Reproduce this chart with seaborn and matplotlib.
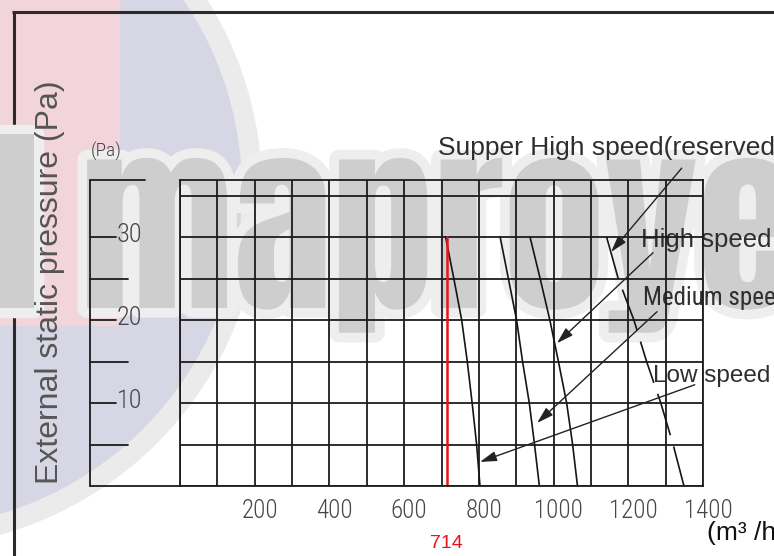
import numpy as np
import pandas as pd
import matplotlib
matplotlib.use("Agg")
import matplotlib.pyplot as plt
import seaborn as sns
from matplotlib import patheffects, transforms
from matplotlib.patches import Circle, Rectangle
from matplotlib.ticker import MultipleLocator

# static pressure levels (Pa) where the curves were read
pressure = [30, 25, 20, 15, 10, 5, 0]

# air flow (m3/h) of each fan speed at those pressures
flow_low = [711, 733, 754, 769, 782, 794, 803]
flow_medium = [857, 879, 901, 917, 935, 949, 962]
flow_high = [937, 964, 990, 1013, 1035, 1051, 1064]
flow_super = [1142, 1173, 1215, 1249, 1287, 1320, 1349]

# marked duty point
rated_flow = 714
rated_pressure = [0, 30]

x_ticks = [200, 400, 600, 800, 1000, 1200, 1400]
y_labeled = [10, 20, 30]
y_unlabeled = [5, 15, 25]

# callouts: label, where the leader starts, where the arrow points (m3/h, Pa)
callouts = ["Supper High speed(reserved)", "High speed", "Medium speed", "Low speed"]
leader_from_x = [1343, 1266, 1277, 1378]
leader_from_y = [38.3, 28.1, 21.0, 12.2]
leader_to_x = [1154, 1009, 956, 803]
leader_to_y = [28.2, 17.2, 7.6, 2.9]

sns.set_theme(style="white")
plt.rcParams["font.family"] = ["Liberation Sans", "DejaVu Sans"]
cond = ["Roboto Condensed", "DejaVu Sans"]

W, H = 774, 556
fig = plt.figure(figsize=(W / 100, H / 100), dpi=100)

# background layer in pixel units (watermark, frame, free texts)
bg = fig.add_axes([0, 0, 1, 1], zorder=0)
bg.set_xlim(0, W)
bg.set_ylim(H, 0)
bg.set_autoscale_on(False)
bg.axis("off")

ring = Circle((-96, 190), 358, facecolor="#ebebeb", lw=0)
disc = Circle((-96, 190), 338, facecolor="#d6d6e4", lw=0)
bg.add_patch(ring)
bg.add_patch(disc)
pink = Rectangle((-10, -10), 130, 336, facecolor="#f2d5da", lw=0)
bg.add_patch(pink)
pink.set_clip_path(disc)

halo = [patheffects.withStroke(linewidth=14, foreground="#eeeeee")]
bg.text(-6, 308, "I", family="Anton", fontsize=146, color="#cecece",
        va="baseline", path_effects=halo)
bg.text(80, 308, "maproyec", family="Anton", fontsize=146, color="#cecece",
        va="baseline", path_effects=halo)

# outer frame
bg.plot([12, W], [12, 12], color="#2b2b2b", lw=2.2, solid_capstyle="butt")
bg.plot([14, 14], [12, H], color="#2b2b2b", lw=2.2, solid_capstyle="butt")

# main grid
ax = fig.add_axes([180 / W, 1 - 486 / H, 523 / W, 306 / H], zorder=1)
ax.patch.set_alpha(0)
ax.set_xlim(0, 1400)
ax.set_ylim(0, 36.87)
ax.set_autoscale_on(False)

grid_col = "#1c1c1c"
ax.xaxis.set_minor_locator(MultipleLocator(100))
ax.yaxis.set_minor_locator(MultipleLocator(5))
ax.set_xticks(x_ticks)
ax.set_yticks([])
ax.grid(which="both", color=grid_col, lw=1.3)
for sp in ax.spines.values():
    sp.set_visible(True)
    sp.set_color(grid_col)
    sp.set_linewidth(1.3)
ax.tick_params(which="both", length=0)
ax.tick_params(axis="x", pad=9, labelsize=18, labelcolor="#474747")
shift = transforms.ScaledTranslation(5 / 100, 0, fig.dpi_scale_trans)
for lab in ax.get_xticklabels():
    lab.set_family(cond)
    lab.set_fontweight("light")
    lab.set_transform(lab.get_transform() + shift)

curve_col = "#151515"
for flows in [flow_low, flow_medium, flow_high]:
    sns.lineplot(x=flows, y=pressure, sort=False, estimator=None,
                 color=curve_col, lw=1.2, ax=ax)
sns.lineplot(x=flow_super, y=pressure, sort=False, estimator=None,
             color=curve_col, lw=1.2, linestyle=(0, (26, 7)), ax=ax)
sns.lineplot(x=[rated_flow, rated_flow], y=rated_pressure, sort=False,
             estimator=None, color="#e8141c", lw=1.8, ax=ax)

# leaders with arrow heads
for fx, fy, tx, ty in zip(leader_from_x, leader_from_y, leader_to_x, leader_to_y):
    ax.annotate("", xy=(tx, ty), xytext=(fx, fy), annotation_clip=False,
                arrowprops=dict(arrowstyle="-|>,head_length=0.5,head_width=0.15",
                                mutation_scale=20, color="#222222", lw=1.0,
                                shrinkA=0, shrinkB=0))

txt_col = "#2e2e2e"
bg.text(438, 155, callouts[0], fontsize=19, color=txt_col, va="baseline")
bg.text(641, 247, callouts[1], fontsize=18.5, color=txt_col, va="baseline")
bg.text(643, 305, callouts[2], fontsize=18, color=txt_col, va="baseline", family=cond)
bg.text(653, 382, callouts[3], fontsize=17.5, color=txt_col, va="baseline")

# separate pressure scale left of the grid
left_tr = transforms.blended_transform_factory(bg.transData, ax.transData)
top = ax.get_ylim()[1]
ax.plot([90, 90], [0, top], transform=left_tr, clip_on=False, color=grid_col, lw=1.3)
ax.plot([90, 145], [top, top], transform=left_tr, clip_on=False, color=grid_col, lw=1.3)
ax.plot([90, 180], [0, 0], transform=left_tr, clip_on=False, color=grid_col, lw=1.3)
for v in y_unlabeled:
    ax.plot([90, 128], [v, v], transform=left_tr, clip_on=False, color=grid_col, lw=1.3)
for v in y_labeled:
    ax.plot([90, 116], [v, v], transform=left_tr, clip_on=False, color=grid_col, lw=1.3)
    ax.text(117, v + 0.3, str(v), transform=left_tr, ha="left", va="center",
            fontsize=19, color="#474747", fontweight="light", family=cond)
bg.text(106, 151, "(Pa)", ha="center", va="center", fontsize=14, color="#444444",
        fontweight="light", family=cond)

# axis titles
bg.text(58, 282, "External static pressure (Pa)", rotation=90, rotation_mode="anchor",
        ha="center", va="baseline", fontsize=23, color="#555555")
bg.text(707, 540, "(m\u00b3 /h)", fontsize=19, color="#111111", va="baseline")

# duty point value under the axis
under_tr = transforms.blended_transform_factory(ax.transData, bg.transData)
ax.text(rated_flow, 544, str(rated_flow), transform=under_tr, ha="center", va="center",
        fontsize=14, color="#e8141c", clip_on=False)

fig.savefig("out.png", dpi=100)
